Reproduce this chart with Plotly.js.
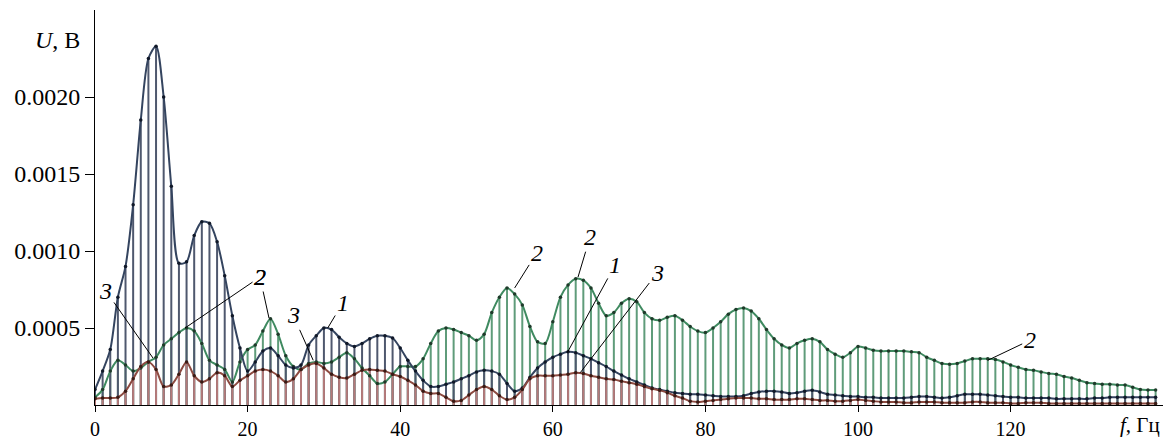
<!DOCTYPE html>
<html>
<head>
<meta charset="utf-8">
<script src="https://cdn.plot.ly/plotly-3.0.1.min.js"></script>
<style>
html,body{margin:0;padding:0;background:#fff;}
#chart{width:1163px;height:440px;}
</style>
</head>
<body>
<div id="chart"></div>
<script>
// Spectrum amplitudes, units of 1e-4 V, one value per frequency bin (bin step ~1 Hz)
const UNIT = 1e-4;
const F_STEP = 1;

const curve1 = [
  1.0, 2.2, 3.6, 7.0, 9.0, 13.0, 18.5, 22.5, 23.3, 20.0,
  14.2, 9.2, 9.3, 11.0, 11.9, 11.8, 10.6, 8.4, 5.8, 3.7,
  2.2, 2.8, 3.5, 3.7, 3.2, 2.6, 2.4, 2.6, 3.9, 4.5,
  5.0, 4.9, 4.4, 4.0, 3.8, 4.0, 4.3, 4.5, 4.5, 4.35,
  3.7, 2.9, 2.2, 1.6, 1.2, 1.2, 1.35, 1.5, 1.7, 1.9,
  2.15, 2.25, 2.2, 2.0, 1.4, 0.9, 1.1, 1.8, 2.4, 2.8,
  3.1, 3.3, 3.45, 3.4, 3.2, 3.0, 2.75, 2.5, 2.2, 1.95,
  1.7, 1.5, 1.3, 1.1, 1.0, 0.9, 0.8, 0.75, 0.7, 0.7,
  0.65, 0.6, 0.55, 0.55, 0.55, 0.6, 0.75, 0.85, 0.9, 0.9,
  0.85, 0.75, 0.8, 0.9, 0.95, 0.85, 0.7, 0.65, 0.6, 0.55,
  0.55, 0.5, 0.5, 0.45, 0.45, 0.45, 0.45, 0.5, 0.55, 0.55,
  0.5, 0.45, 0.5, 0.6, 0.7, 0.7, 0.7, 0.65, 0.6, 0.55,
  0.5, 0.5, 0.45, 0.45, 0.45, 0.45, 0.4, 0.4, 0.4, 0.4,
  0.4, 0.45, 0.45, 0.5, 0.5, 0.5, 0.5, 0.5, 0.5, 0.5
];

const curve2 = [
  0.5, 1.0, 2.2, 2.9, 2.6, 2.2, 2.4, 2.8, 3.1, 3.9,
  4.3, 4.7, 5.0, 4.8, 4.0, 2.9, 2.6, 2.3, 1.5, 2.8,
  3.6, 3.9, 4.8, 5.6, 4.6, 3.2, 2.5, 2.3, 2.7, 2.8,
  2.7, 2.8, 3.1, 3.4, 3.0, 2.4, 1.9, 1.4, 1.5, 2.0,
  2.5, 2.5, 2.5, 3.0, 4.0, 4.8, 5.0, 4.9, 4.7, 4.5,
  4.2, 4.6, 6.0, 7.0, 7.6, 7.2, 6.5, 5.1, 4.1, 4.0,
  5.4, 7.0, 7.8, 8.2, 8.1, 7.6, 6.6, 5.8, 6.0, 6.6,
  6.9, 6.7, 6.0, 5.6, 5.5, 5.7, 5.8, 5.5, 5.1, 4.8,
  4.7, 5.0, 5.4, 5.9, 6.2, 6.3, 6.1, 5.6, 4.9, 4.3,
  3.9, 3.7, 4.0, 4.2, 4.3, 4.1, 3.6, 3.3, 3.1, 3.4,
  3.8, 3.7, 3.55, 3.5, 3.5, 3.5, 3.5, 3.45, 3.4, 3.1,
  2.9, 2.7, 2.65, 2.7, 2.85, 3.0, 3.0, 3.0, 2.95, 2.8,
  2.6, 2.45, 2.3, 2.25, 2.15, 2.05, 2.0, 1.85, 1.75, 1.6,
  1.45, 1.4, 1.35, 1.35, 1.3, 1.3, 1.15, 1.0, 0.97, 0.97
];

const curve3 = [
  0.4, 0.45, 0.45, 0.5, 0.9, 1.7, 2.5, 2.8, 2.3, 1.2,
  1.3, 2.0, 2.8, 1.9, 1.5, 1.7, 2.1, 1.9, 1.2, 1.6,
  1.9, 2.2, 2.3, 2.2, 1.9, 1.5, 1.7, 2.3, 2.6, 2.7,
  2.4, 2.0, 1.8, 1.75, 2.0, 2.25, 2.3, 2.25, 2.2, 2.0,
  1.85, 1.6, 1.3, 0.9, 0.75, 0.75, 0.5, 0.25, 0.3, 0.65,
  1.0, 1.2, 1.0, 0.6, 0.35, 0.5, 1.0, 1.7, 1.9, 1.9,
  1.9, 1.95, 2.0, 2.1, 2.05, 1.9, 1.8, 1.7, 1.65, 1.55,
  1.45, 1.35, 1.2, 1.05, 0.95, 0.8, 0.6, 0.45, 0.25, 0.2,
  0.25, 0.3, 0.35, 0.4, 0.45, 0.45, 0.45, 0.4, 0.4, 0.35,
  0.35, 0.35, 0.4, 0.4, 0.35, 0.3, 0.3, 0.25, 0.25, 0.3,
  0.35, 0.3, 0.25, 0.2, 0.2, 0.2, 0.15, 0.15, 0.2, 0.2,
  0.2, 0.15, 0.15, 0.15, 0.15, 0.2, 0.2, 0.15, 0.15, 0.15,
  0.1, 0.1, 0.15, 0.15, 0.15, 0.1, 0.1, 0.1, 0.1, 0.1,
  0.1, 0.1, 0.1, 0.1, 0.1, 0.1, 0.1, 0.1, 0.1, 0.1
];

const xTickVals = [0, 20, 40, 60, 80, 100, 120];
const xTickText = ['0', '20', '40', '60', '80', '100', '120'];
const yTickVals = [0.0005, 0.0010, 0.0015, 0.0020];
const yTickText = ['0.0005', '0.0010', '0.0015', '0.0020'];

// curve labels: [text, freq, value(1e-4 V), dx, dy]
const labels = [
  ['3', 7.6, 3.05, -47, -67],
  ['2', 11.8, 5.0, 75, -51],
  ['2', 22.8, 5.65, -9, -41],
  ['3', 28.6, 2.9, -20, -45],
  ['1', 30.5, 5.0, 15, -25],
  ['2', 55.0, 7.6, 22, -35],
  ['2', 63.3, 8.3, 12, -40],
  ['1', 61.9, 3.4, 48, -88],
  ['3', 63.6, 2.1, 77, -100],
  ['2', 117, 2.9, 42, -20]
];

const freq = curve1.map((_, i) => i * F_STEP);
const toV = a => a.map(v => v * UNIT);
const y1 = toV(curve1), y2 = toV(curve2), y3 = toV(curve3);
const zeros = freq.map(() => 0);

const FONT = 'Liberation Serif, Times New Roman, serif';

function stems(y, color) {
  return {
    x: freq, y: y, type: 'scatter', mode: 'markers',
    marker: {size: 1, color: 'rgba(0,0,0,0)'},
    error_y: {type: 'data', symmetric: false, array: zeros, arrayminus: y,
              width: 0, thickness: 2, color: color, visible: true},
    hoverinfo: 'skip', showlegend: false
  };
}
function curve(y, color, mcolor) {
  return {
    x: freq, y: y, type: 'scatter', mode: 'lines+markers',
    line: {color: color, width: 2, shape: 'spline', smoothing: 0.8},
    marker: {size: 3.5, color: mcolor},
    showlegend: false
  };
}

const data = [
  stems(y2, '#5f9c7a'),
  stems(y1, '#4f586e'),
  stems(y3, '#b57a7a'),
  curve(y2, '#3f8a60', '#1f3a2a'),
  curve(y1, '#34445f', '#101828'),
  curve(y3, '#8c4a40', '#3a1a14')
];

const annotations = labels.map(l => ({
  x: l[1], y: l[2] * UNIT, xref: 'x', yref: 'y',
  text: '<i>' + l[0] + '</i>', showarrow: true, arrowhead: 0,
  arrowwidth: 1, arrowcolor: '#000', ax: l[3], ay: l[4], standoff: 0,
  font: {family: FONT, size: 24, color: '#000'}
}));
annotations.push({
  xref: 'paper', yref: 'paper', x: -0.012, y: 0.924, xanchor: 'right', yanchor: 'middle',
  text: '<i>U</i>, В', showarrow: false, font: {family: FONT, size: 24, color: '#000'}
});
annotations.push({
  xref: 'paper', yref: 'paper', x: 0.999, y: -0.05, xanchor: 'right', yanchor: 'middle',
  text: '<i>f</i>, Гц', showarrow: false, font: {family: FONT, size: 21, color: '#000'}
});

const layout = {
  width: 1163, height: 440,
  margin: {l: 95, r: 0, t: 10, b: 35},
  paper_bgcolor: '#fff', plot_bgcolor: '#fff',
  showlegend: false,
  xaxis: {
    range: [0, 139.97], showgrid: false, zeroline: false,
    showline: true, linecolor: '#000', linewidth: 1,
    ticks: 'outside', ticklen: 6, tickcolor: '#000', tickwidth: 1,
    tickvals: xTickVals, ticktext: xTickText,
    tickfont: {family: FONT, size: 20, color: '#000'}
  },
  yaxis: {
    range: [0, 0.002565], showgrid: false, zeroline: false,
    showline: true, linecolor: '#000', linewidth: 1,
    ticks: 'outside', ticklen: 9, tickcolor: '#000', tickwidth: 1,
    tickvals: yTickVals, ticktext: yTickText,
    tickfont: {family: FONT, size: 24, color: '#000'}
  },
  annotations: annotations
};

Plotly.newPlot('chart', data, layout, {staticPlot: true, displayModeBar: false});
</script>
</body>
</html>
